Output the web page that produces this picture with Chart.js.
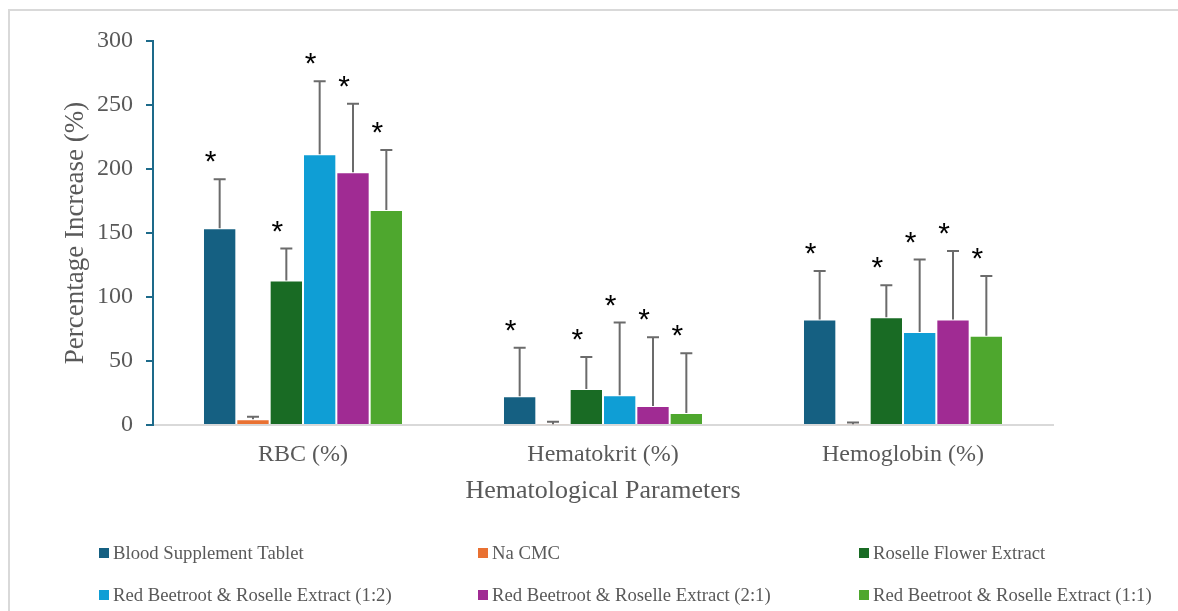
<!DOCTYPE html>
<html>
<head>
<meta charset="utf-8">
<script src="https://cdn.jsdelivr.net/npm/chart.js@4.4.1/dist/chart.umd.min.js"></script>
<style>
  html, body { margin: 0; padding: 0; background: #ffffff; overflow: hidden; }
  #wrap { position: relative; width: 1178px; height: 611px; }
  #frame {
    position: absolute; left: 8px; top: 9px; width: 1300px; height: 700px;
    border-left: 2px solid #d9d9d9; border-top: 2px solid #d9d9d9;
    box-sizing: border-box; pointer-events: none;
  }
  canvas { position: absolute; left: 0; top: 0; }
</style>
</head>
<body>
<div id="wrap">
  <div id="frame"></div>
  <canvas id="chart" width="1178" height="611"></canvas>
</div>
<script>
// Hematological parameters and treatment groups
const categories = ['RBC (%)', 'Hematokrit (%)', 'Hemoglobin (%)'];

const seriesNames = [
  'Blood Supplement Tablet',
  'Na CMC',
  'Roselle Flower Extract',
  'Red Beetroot & Roselle Extract (1:2)',
  'Red Beetroot & Roselle Extract (2:1)',
  'Red Beetroot & Roselle Extract (1:1)'
];

// Mean percentage increase per group, ordered as the categories
const bloodSupplement = [153.7, 22.4, 82.5];
const naCmc           = [4.5, 0.5, 0.5];
const roselleFlower   = [112.8, 28.1, 84.1];
const beetRoselle12   = [211.5, 23.2, 72.7];
const beetRoselle21   = [197.4, 14.8, 82.5];
const beetRoselle11   = [168.0, 9.4, 69.8];

// Upper error (standard deviation) per group
const bloodSupplementErr = [38.3, 38.0, 37.8];
const naCmcErr           = [2.0, 2.1, 1.5];
const roselleFlowerErr   = [25.0, 25.0, 25.0];
const beetRoselle12Err   = [57.0, 56.8, 56.5];
const beetRoselle21Err   = [53.6, 53.7, 53.4];
const beetRoselle11Err   = [46.8, 46.6, 46.6];

// Significance markers (true = marked with an asterisk)
const bloodSupplementSig = [true, true, true];
const naCmcSig           = [false, false, false];
const roselleFlowerSig   = [true, true, true];
const beetRoselle12Sig   = [true, true, true];
const beetRoselle21Sig   = [true, true, true];
const beetRoselle11Sig   = [true, true, true];

// Y axis ticks
const yTicks = [0, 50, 100, 150, 200, 250, 300];

const colors = ['#156082', '#E97132', '#196B24', '#0F9ED5', '#A02B93', '#4EA72E'];
const values = [bloodSupplement, naCmc, roselleFlower, beetRoselle12, beetRoselle21, beetRoselle11];
const errors = [bloodSupplementErr, naCmcErr, roselleFlowerErr, beetRoselle12Err, beetRoselle21Err, beetRoselle11Err];
const sigs = [bloodSupplementSig, naCmcSig, roselleFlowerSig, beetRoselle12Sig, beetRoselle21Sig, beetRoselle11Sig];

const TEXT = '#595959';
const SERIF = '"Liberation Serif", "Times New Roman", serif';

const datasets = seriesNames.map((name, i) => ({
  label: name,
  data: values[i],
  errorPlus: errors[i],
  significant: sigs[i],
  backgroundColor: colors[i],
  borderColor: 'rgba(255,255,255,0.55)',
  borderWidth: 1,
  categoryPercentage: 0.6667,
  barPercentage: 1.0
}));

// Error bars and significance asterisks above each bar
const errorBarPlugin = {
  id: 'errorBars',
  afterDatasetsDraw(chart) {
    const ctx = chart.ctx;
    const yScale = chart.scales.y;
    chart.data.datasets.forEach((ds, di) => {
      const meta = chart.getDatasetMeta(di);
      meta.data.forEach((bar, idx) => {
        const v = ds.data[idx];
        const e = ds.errorPlus[idx];
        const yTop = yScale.getPixelForValue(v + e);
        const yBase = yScale.getPixelForValue(v);
        ctx.save();
        ctx.strokeStyle = '#6b6b6b';
        ctx.lineWidth = 2;
        ctx.beginPath();
        ctx.moveTo(bar.x, yBase);
        ctx.lineTo(bar.x, yTop);
        ctx.moveTo(bar.x - 6, yTop);
        ctx.lineTo(bar.x + 6, yTop);
        ctx.stroke();
        if (ds.significant[idx]) {
          ctx.fillStyle = '#000000';
          ctx.font = '30px "Liberation Sans", Arial, sans-serif';
          ctx.textAlign = 'center';
          ctx.textBaseline = 'alphabetic';
          ctx.fillText('*', bar.x - 9, yTop - 8);
        }
        ctx.restore();
      });
    });
  }
};

// Three-column legend under the axis title
const gridLegendPlugin = {
  id: 'gridLegend',
  afterDraw(chart) {
    const ctx = chart.ctx;
    const colX = [99, 478, 859];
    const rowY = [553, 595];
    ctx.save();
    ctx.font = '18.7px ' + SERIF;
    ctx.textBaseline = 'middle';
    ctx.textAlign = 'left';
    chart.data.datasets.forEach((ds, i) => {
      const x = colX[i % 3];
      const y = rowY[Math.floor(i / 3)];
      ctx.fillStyle = ds.backgroundColor;
      ctx.fillRect(x, y - 5, 10, 10);
      ctx.fillStyle = TEXT;
      ctx.fillText(ds.label, x + 14, y + 1);
    });
    ctx.restore();
  }
};

new Chart(document.getElementById('chart'), {
  type: 'bar',
  data: { labels: categories, datasets },
  options: {
    responsive: false,
    animation: false,
    devicePixelRatio: 1,
    layout: { padding: { left: 50, top: 41, right: 125, bottom: 104 } },
    plugins: {
      legend: { display: false },
      tooltip: { enabled: false }
    },
    scales: {
      x: {
        grid: { display: false, drawTicks: false },
        border: { display: true, color: '#d9d9d9', width: 2 },
        ticks: { color: TEXT, font: { family: SERIF, size: 24 }, padding: 15 },
        title: {
          display: true,
          text: 'Hematological Parameters',
          color: TEXT,
          font: { family: SERIF, size: 26 },
          padding: { top: 0, bottom: 0 }
        },
        afterFit(scale) { scale.height = 82; }
      },
      y: {
        min: 0,
        max: 300,
        afterBuildTicks(scale) { scale.ticks = yTicks.map(v => ({ value: v })); },
        grid: {
          drawOnChartArea: false,
          drawTicks: true,
          tickLength: 7,
          color: '#1d6a8a',
          lineWidth: 2
        },
        border: { display: true, color: '#1d6a8a', width: 2 },
        ticks: { color: TEXT, font: { family: SERIF, size: 24 }, padding: 13 },
        title: {
          display: true,
          text: 'Percentage Increase (%)',
          color: TEXT,
          font: { family: SERIF, size: 27 },
          padding: { top: 10, bottom: 0 }
        },
        afterFit(scale) { scale.width = 103; }
      }
    }
  },
  plugins: [errorBarPlugin, gridLegendPlugin]
});
</script>
</body>
</html>
